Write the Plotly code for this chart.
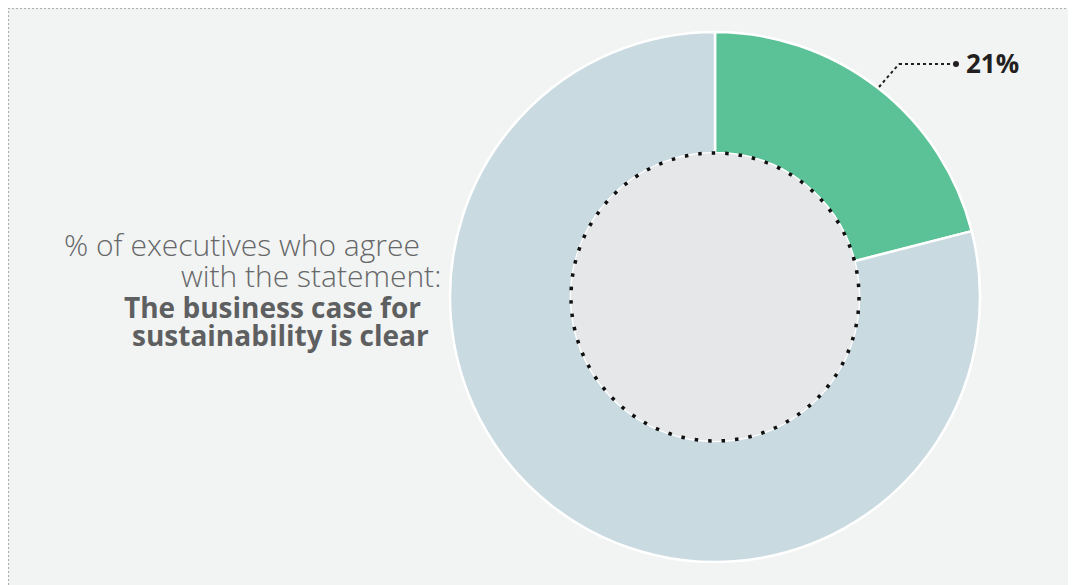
import plotly.graph_objects as go

W, H = 1076, 585
OFF = 8  # page body margin shifts the figure

labels = ["Agree", "Do not agree"]
values = [21, 79]
colors = ["#5BC196", "#C9DAE1"]
pct_label = "21%"
caption_light = ["% of executives who agree", "with the statement:"]
caption_bold = ["The business case for", "sustainability is clear"]

# pie geometry in reference pixels
cx, cy, r = 715, 297, 265
hole_r = 144


def px(x):
    return (x - OFF) / W


def py(y):
    return 1 - (y - OFF) / H


fig = go.Figure()
fig.add_trace(
    go.Pie(
        labels=labels,
        values=values,
        hole=hole_r / r,
        sort=False,
        direction="clockwise",
        rotation=0,
        marker={"colors": colors, "line": {"color": "white", "width": 2.5}},
        textinfo="none",
        hoverinfo="label+percent",
        showlegend=False,
        domain={"x": [px(cx - r), px(cx + r)], "y": [py(cy + r), py(cy - r)]},
    )
)

lead = {"color": "#231F20", "width": 2, "dash": "3px,3px"}
frame = {"color": "#AAAAAA", "width": 1, "dash": "2px,2px"}
shapes = [
    # inner dotted circle
    dict(type="circle", xref="paper", yref="paper",
         x0=px(cx - hole_r), x1=px(cx + hole_r), y0=py(cy + hole_r), y1=py(cy - hole_r),
         fillcolor="#E6E7E9", line={"color": "#111111", "width": 3.5, "dash": "3.5px,10px"}, layer="above"),
    # leader line
    dict(type="line", xref="paper", yref="paper", x0=px(879), y0=py(87), x1=px(899), y1=py(64), line=lead),
    dict(type="line", xref="paper", yref="paper", x0=px(899), y0=py(64), x1=px(955), y1=py(64), line=lead),
    dict(type="circle", xref="paper", yref="paper", x0=px(953), y0=py(67), x1=px(959), y1=py(61),
         fillcolor="#231F20", line={"width": 0}),
    # dotted frame along the top and left edges
    dict(type="line", xref="paper", yref="paper", x0=0, y0=1 - 0.6 / H, x1=1, y1=1 - 0.6 / H, line=frame),
    dict(type="line", xref="paper", yref="paper", x0=0.6 / W, y0=0, x1=0.6 / W, y1=1, line=frame),
]

annotations = [
    dict(text=f"<b>{pct_label}</b>", x=px(964), y=py(63), xanchor="left", yanchor="middle",
         font={"size": 26, "color": "#231F20", "family": "Open Sans"}),
]
for text, x, y in zip(caption_light, [422, 443], [244, 276]):
    annotations.append(dict(text=text, x=px(x), y=py(y), xanchor="right", yanchor="middle", align="right",
                            font={"size": 30, "color": "#666769", "family": "Open Sans", "weight": 300}))
for text, x, y in zip(caption_bold, [423, 431], [307, 335]):
    annotations.append(dict(text=f"<b>{text}</b>", x=px(x), y=py(y), xanchor="right", yanchor="middle",
                            align="right", font={"size": 28, "color": "#5E5F61", "family": "Open Sans"}))
for a in annotations:
    a.update(xref="paper", yref="paper", showarrow=False)

fig.update_layout(
    width=W,
    height=H,
    margin={"l": 0, "r": 0, "t": 0, "b": 0},
    paper_bgcolor="#F2F4F3",
    plot_bgcolor="#F2F4F3",
    shapes=shapes,
    annotations=annotations,
)

fig.write_html("out.html")
